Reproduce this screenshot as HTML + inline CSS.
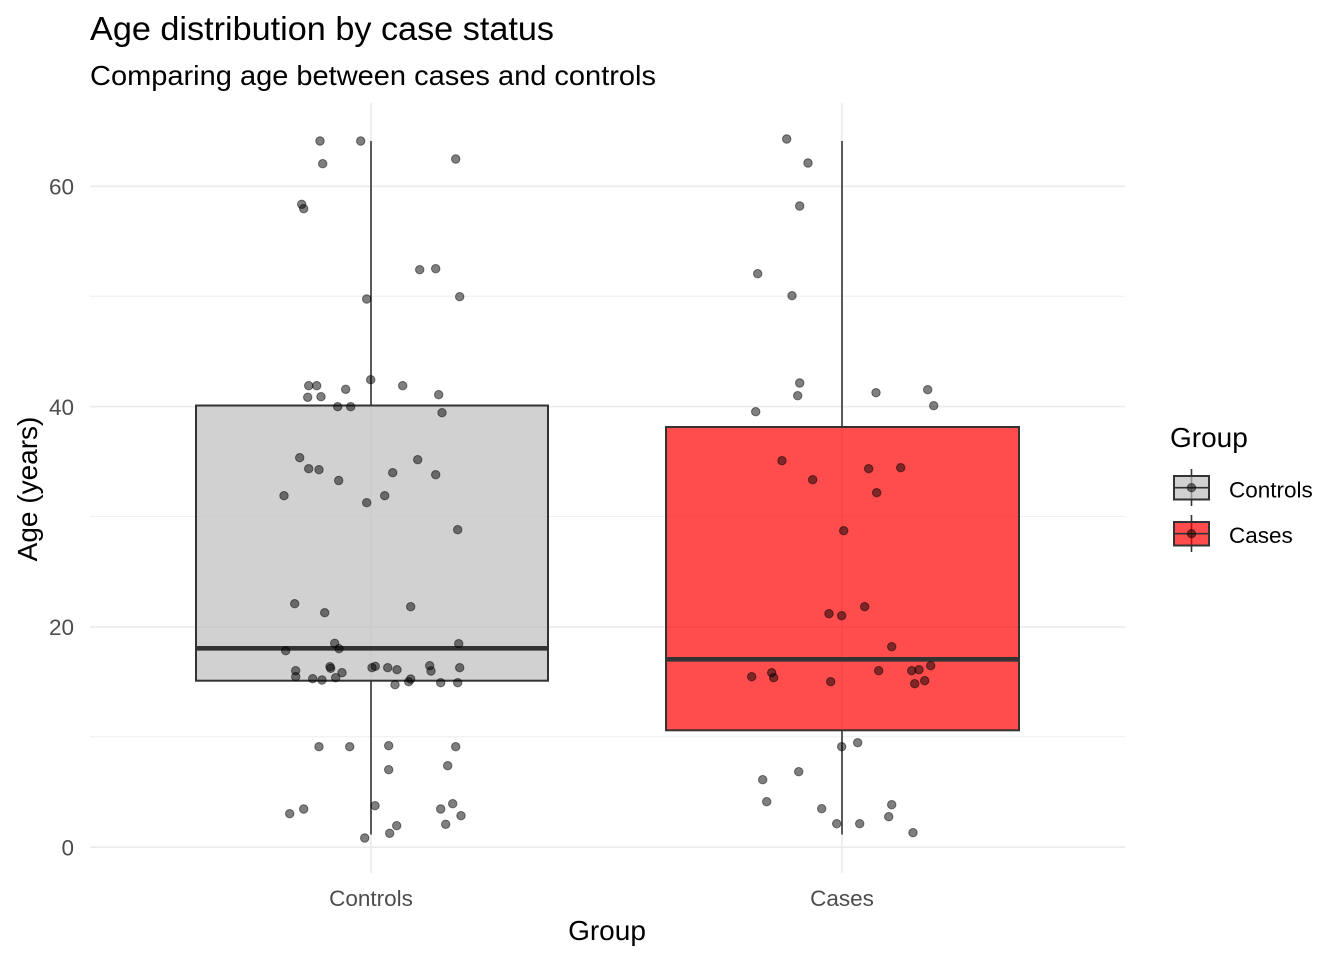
<!DOCTYPE html>
<html><head><meta charset="utf-8"><style>
html,body{margin:0;padding:0;background:#fff;}
svg{display:block;font-family:"Liberation Sans",Arial,sans-serif;}
</style></head><body>
<svg width="1344" height="960" viewBox="0 0 1344 960" xmlns="http://www.w3.org/2000/svg">
<rect width="1344" height="960" fill="#fff"/>
<!-- minor grid -->
<g stroke="#ebebeb" stroke-width="0.8" fill="none">
<line x1="90" x2="1125" y1="736.8" y2="736.8"/>
<line x1="90" x2="1125" y1="516.5" y2="516.5"/>
<line x1="90" x2="1125" y1="296.2" y2="296.2"/>
</g>
<!-- major grid -->
<g stroke="#ebebeb" stroke-width="1.6" fill="none">
<line x1="90" x2="1125" y1="847.2" y2="847.2"/>
<line x1="90" x2="1125" y1="626.9" y2="626.9"/>
<line x1="90" x2="1125" y1="406.6" y2="406.6"/>
<line x1="90" x2="1125" y1="186.3" y2="186.3"/>
<line x1="371" x2="371" y1="103" y2="873"/>
<line x1="842" x2="842" y1="103" y2="873"/>
</g>
<!-- boxplots -->
<g stroke="#333333" fill="none">
<line x1="371" x2="371" y1="141" y2="405.5" stroke-width="1.6"/>
<line x1="371" x2="371" y1="680.7" y2="834.5" stroke-width="1.6"/>
<rect x="196" y="405.5" width="352" height="275.2" fill="#bebebe" fill-opacity="0.7" stroke-width="2"/>
<line x1="196" x2="548" y1="648.3" y2="648.3" stroke-width="4.6"/>
<line x1="842" x2="842" y1="141" y2="427" stroke-width="1.6"/>
<line x1="842" x2="842" y1="730.3" y2="834.5" stroke-width="1.6"/>
<rect x="666" y="427" width="353" height="303.3" fill="#ff0000" fill-opacity="0.7" stroke-width="2"/>
<line x1="666" x2="1019" y1="659.3" y2="659.3" stroke-width="4.6"/>
</g>
<!-- points -->
<g fill="rgba(0,0,0,0.5)" stroke="rgba(0,0,0,0.5)" stroke-width="1">
<circle cx="320" cy="141" r="4.2"/><circle cx="360.7" cy="141" r="4.2"/><circle cx="322.7" cy="163.7" r="4.2"/><circle cx="455.7" cy="159" r="4.2"/><circle cx="301.7" cy="204.3" r="4.2"/><circle cx="303.7" cy="208.7" r="4.2"/><circle cx="419.7" cy="269.7" r="4.2"/><circle cx="435.7" cy="268.7" r="4.2"/><circle cx="366.7" cy="299" r="4.2"/><circle cx="459.7" cy="296.7" r="4.2"/><circle cx="370.7" cy="379.7" r="4.2"/><circle cx="308.7" cy="385.7" r="4.2"/><circle cx="316.7" cy="385.7" r="4.2"/><circle cx="345.7" cy="389.3" r="4.2"/><circle cx="402.7" cy="385.7" r="4.2"/><circle cx="307.7" cy="397.3" r="4.2"/><circle cx="321" cy="396.7" r="4.2"/><circle cx="438.7" cy="394.7" r="4.2"/><circle cx="337.7" cy="406.7" r="4.2"/><circle cx="350.7" cy="406.7" r="4.2"/><circle cx="442" cy="412.7" r="4.2"/><circle cx="299.7" cy="457.7" r="4.2"/><circle cx="308.7" cy="468.7" r="4.2"/><circle cx="319" cy="469.7" r="4.2"/><circle cx="338.7" cy="480.5" r="4.2"/><circle cx="392.7" cy="472.7" r="4.2"/><circle cx="417.7" cy="459.7" r="4.2"/><circle cx="435.7" cy="474.7" r="4.2"/>
<circle cx="284" cy="495.7" r="4.2"/><circle cx="366.7" cy="502.7" r="4.2"/><circle cx="384.7" cy="495.7" r="4.2"/><circle cx="457.7" cy="529.7" r="4.2"/><circle cx="294.7" cy="603.7" r="4.2"/><circle cx="324.7" cy="612.7" r="4.2"/><circle cx="410.7" cy="606.7" r="4.2"/><circle cx="334.7" cy="643.3" r="4.2"/><circle cx="339" cy="648.7" r="4.2"/><circle cx="285.7" cy="650.7" r="4.2"/><circle cx="458.7" cy="643.7" r="4.2"/><circle cx="295.7" cy="670.7" r="4.2"/><circle cx="295.7" cy="676.7" r="4.2"/><circle cx="312.7" cy="678.7" r="4.2"/><circle cx="322" cy="680" r="4.2"/><circle cx="335.7" cy="677.7" r="4.2"/><circle cx="342" cy="672.7" r="4.2"/><circle cx="330" cy="666.7" r="4.2"/><circle cx="330.7" cy="668.3" r="4.2"/><circle cx="372" cy="667.7" r="4.2"/><circle cx="375.3" cy="666.3" r="4.2"/><circle cx="387.7" cy="667.7" r="4.2"/><circle cx="397" cy="669.7" r="4.2"/><circle cx="395" cy="684.7" r="4.2"/><circle cx="408.7" cy="681.7" r="4.2"/><circle cx="410.7" cy="679" r="4.2"/><circle cx="429.7" cy="665.7" r="4.2"/><circle cx="431" cy="671" r="4.2"/><circle cx="440.7" cy="682.7" r="4.2"/><circle cx="457.7" cy="682.7" r="4.2"/><circle cx="459.7" cy="667.7" r="4.2"/><circle cx="319" cy="746.7" r="4.2"/><circle cx="349.7" cy="746.7" r="4.2"/><circle cx="388.7" cy="745.7" r="4.2"/><circle cx="455.7" cy="746.7" r="4.2"/><circle cx="388.7" cy="769.7" r="4.2"/><circle cx="447.7" cy="765.7" r="4.2"/><circle cx="375" cy="805.7" r="4.2"/><circle cx="289.7" cy="813.7" r="4.2"/><circle cx="303.7" cy="809" r="4.2"/><circle cx="440.7" cy="809" r="4.2"/><circle cx="452.7" cy="803.7" r="4.2"/><circle cx="461" cy="815.7" r="4.2"/><circle cx="445.7" cy="824.3" r="4.2"/><circle cx="396.7" cy="825.7" r="4.2"/><circle cx="389.7" cy="833.3" r="4.2"/><circle cx="364.7" cy="838" r="4.2"/>
<circle cx="786.7" cy="139" r="4.2"/><circle cx="808" cy="163" r="4.2"/><circle cx="799.7" cy="206" r="4.2"/><circle cx="757.7" cy="273.7" r="4.2"/><circle cx="792" cy="295.7" r="4.2"/><circle cx="799.7" cy="383" r="4.2"/><circle cx="797.7" cy="395.7" r="4.2"/><circle cx="876" cy="392.7" r="4.2"/><circle cx="927.7" cy="389.7" r="4.2"/><circle cx="933.7" cy="405.7" r="4.2"/><circle cx="755.7" cy="411.7" r="4.2"/><circle cx="782" cy="460.7" r="4.2"/><circle cx="868.7" cy="468.7" r="4.2"/><circle cx="900.7" cy="467.7" r="4.2"/><circle cx="812.7" cy="479.7" r="4.2"/><circle cx="876.7" cy="492.7" r="4.2"/><circle cx="843.7" cy="530.7" r="4.2"/><circle cx="864.7" cy="606.7" r="4.2"/><circle cx="829" cy="613.7" r="4.2"/><circle cx="841.7" cy="615.7" r="4.2"/><circle cx="891.7" cy="646.7" r="4.2"/><circle cx="751.7" cy="676.7" r="4.2"/><circle cx="771.7" cy="672.7" r="4.2"/><circle cx="773.7" cy="677.7" r="4.2"/><circle cx="830.7" cy="681.7" r="4.2"/><circle cx="878.7" cy="670.7" r="4.2"/><circle cx="911.7" cy="670.7" r="4.2"/><circle cx="919" cy="669.7" r="4.2"/><circle cx="930.7" cy="665.7" r="4.2"/><circle cx="924.7" cy="680.7" r="4.2"/><circle cx="914.7" cy="683.7" r="4.2"/><circle cx="841.7" cy="746.7" r="4.2"/><circle cx="857.7" cy="742.7" r="4.2"/><circle cx="798.7" cy="771.7" r="4.2"/><circle cx="762.7" cy="779.7" r="4.2"/><circle cx="766.7" cy="801.7" r="4.2"/><circle cx="821.7" cy="808.7" r="4.2"/><circle cx="891.7" cy="804.7" r="4.2"/><circle cx="888.7" cy="816.7" r="4.2"/><circle cx="836.7" cy="823.7" r="4.2"/><circle cx="859.7" cy="823.7" r="4.2"/><circle cx="913" cy="832.7" r="4.2"/>
</g>
<!-- y tick labels -->
<g fill="#4d4d4d" font-size="22.5" text-anchor="end">
<text x="74" y="194.5">60</text>
<text x="74" y="414.8">40</text>
<text x="74" y="635.1">20</text>
<text x="74" y="855.4">0</text>
</g>
<!-- x tick labels -->
<g fill="#4d4d4d" font-size="22.5" text-anchor="middle">
<text x="371" y="906">Controls</text>
<text x="842" y="906">Cases</text>
</g>
<!-- axis titles -->
<text x="607" y="940" font-size="28" text-anchor="middle" fill="#000">Group</text>
<text transform="translate(37,489) rotate(-90)" font-size="28" text-anchor="middle" fill="#000">Age (years)</text>
<!-- titles -->
<text x="90" y="40" font-size="33" fill="#000" textLength="464" lengthAdjust="spacingAndGlyphs">Age distribution by case status</text>
<text x="90" y="85" font-size="27.5" fill="#000" textLength="566" lengthAdjust="spacingAndGlyphs">Comparing age between cases and controls</text>
<!-- legend -->
<text x="1170" y="447" font-size="28" fill="#000">Group</text>
<g stroke="#333333" stroke-width="1.6">
<line x1="1191.5" x2="1191.5" y1="469" y2="506"/>
<rect x="1174" y="476" width="35" height="23.5" fill="#bebebe" fill-opacity="0.7" stroke-width="2"/>
<line x1="1174" x2="1209" y1="487.7" y2="487.7"/>
<line x1="1191.5" x2="1191.5" y1="515" y2="552"/>
<rect x="1174" y="522" width="35" height="23.5" fill="#ff0000" fill-opacity="0.7" stroke-width="2"/>
<line x1="1174" x2="1209" y1="533.7" y2="533.7"/>
</g>
<g fill="rgba(0,0,0,0.5)" stroke="rgba(0,0,0,0.5)" stroke-width="1">
<circle cx="1191.5" cy="487.7" r="4.2"/>
<circle cx="1191.5" cy="533.7" r="4.2"/>
</g>
<g font-size="22.5" fill="#000">
<text x="1229" y="497.5">Controls</text>
<text x="1229" y="543">Cases</text>
</g>
</svg>
</body></html>
